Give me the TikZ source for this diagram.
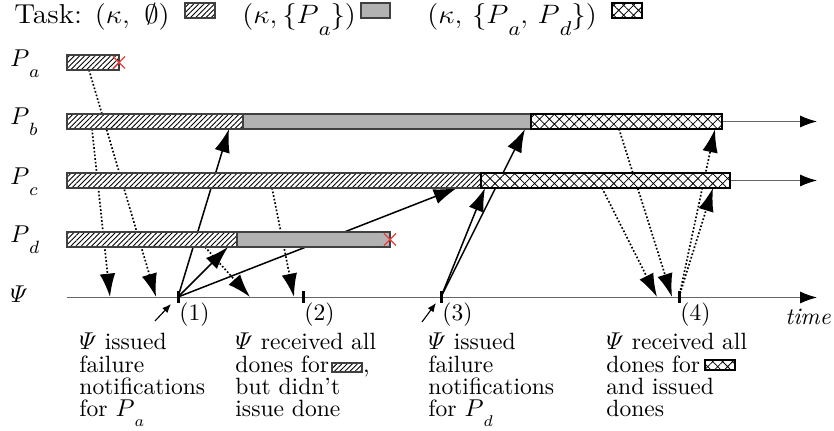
\documentclass[tikz,border=0pt]{standalone}
\usepackage{amsmath}
\usetikzlibrary{arrows.meta,patterns.meta}
\definecolor{crossred}{RGB}{240,60,60}
\definecolor{busy}{RGB}{178,178,178}
% process name with a lowered index
\newcommand{\Psub}[1]{P\raisebox{-0.42em}{$\scriptstyle #1$}}
% slightly widened heading text
\newcommand{\widetitle}[1]{\scalebox{1.08}[1]{#1}}
\begin{document}
\begin{tikzpicture}[x=0.45pt,y=-0.45pt,
  txt/.style={inner sep=0pt,font=\fontsize{10.6}{10.1}\selectfont},
  ttl/.style={inner sep=0pt,font=\fontsize{12.3}{13}\selectfont,anchor=base west},
  plbl/.style={inner sep=0pt,font=\fontsize{11.2}{12}\selectfont,anchor=base west},
  seg/.style={draw=black!75,line width=0.5pt},
  hatched/.style={seg,preaction={fill=white},pattern={Lines[angle=45,distance=1.65pt,line width=0.4pt]}},
  shaded/.style={seg,fill=busy},
  crossed/.style={draw=black,line width=0.7pt,preaction={fill=white},pattern={Hatch[angle=45,distance=3.15pt,line width=0.35pt]}},
  msg/.style={line width=0.68pt,-{Latex[length=10.5pt,width=7pt]}},
  donemsg/.style={msg,line width=0.75pt,dash pattern=on 0.75pt off 0.9pt},
  timeline/.style={draw=black!60,line width=0.45pt,-{Latex[length=7.6pt,width=5.4pt,color=black]}},
  tick/.style={line width=1.35pt},
  pointer/.style={line width=0.5pt,-{Latex[length=4pt,width=3.2pt]}},
  crash/.style={draw=crossred,line width=0.6pt}
]
\useasboundingbox (0,0) rectangle (834,431);

% ---------- legend ----------
\node[ttl] (t0) at (14,24) {\widetitle{Task: $(\kappa,\ \emptyset)$}};
\path[hatched] (185,3) rectangle (215,18);
\node[ttl] (t1) at (242,24) {\widetitle{$(\kappa,\{\Psub a\})$}};
\path[shaded] (361,3) rectangle (390,18);
\node[ttl] (t2) at (427,24) {\widetitle{$(\kappa,\,\{\Psub a,\,\Psub d\})$}};
\path[crossed] (612,3) rectangle (642,18);

% ---------- row labels ----------
\node[plbl] (la) at (10,67)  {$\Psub a$};
\node[plbl] (lb) at (10,125) {$\Psub b$};
\node[plbl] (lc) at (10,185) {$\Psub c$};
\node[plbl] (ld) at (10,243) {$\Psub d$};
\node[plbl] (lpsi) at (10,303) {$\varPsi$};

% ---------- message end points ----------
\coordinate (aout) at (89,70);
\coordinate (bout) at (92,129);
\coordinate (dout) at (205,247);
\coordinate (cout) at (272,188);
\coordinate (cout2) at (602,188);
\coordinate (bout2) at (619,129);
\coordinate (g1) at (156,297);
\coordinate (g2) at (110,297);
\coordinate (g3) at (250,297);
\coordinate (g4) at (294,297);
\coordinate (g5) at (657,297);
\coordinate (g6) at (672,297);
\coordinate (e1) at (178,297);
\coordinate (e2) at (303,297);
\coordinate (e3) at (441,297);
\coordinate (e4) at (679,297);
\coordinate (bin1) at (229,129);
\coordinate (din1) at (228,247);
\coordinate (cin1) at (457,188);
\coordinate (cin3) at (485,188);
\coordinate (bin3) at (525,129);
\coordinate (cin4) at (713,188);
\coordinate (bin4) at (715,129);

% ---------- time lines ----------
\coordinate (bend) at (722,121.5);
\coordinate (cend) at (730,180.5);
\coordinate (bfar) at (817,121.5);
\coordinate (cfar) at (817,180.5);
\coordinate (psistart) at (67,297.5);
\coordinate (psifar) at (817,297.5);
\draw[timeline] (bend) -- (bfar);
\draw[timeline] (cend) -- (cfar);
\draw[timeline] (psistart) -- (psifar);

% ---------- messages (drawn beneath the bars) ----------
\draw[donemsg] (aout) -- (g1);
\draw[donemsg] (bout) -- (g2);
\draw[donemsg] (dout) -- (g3);
\draw[donemsg] (cout) -- (g4);
\draw[donemsg] (cout2) -- (g5);
\draw[donemsg] (bout2) -- (g6);
\draw[donemsg] (e4) -- (cin4);
\draw[donemsg] (e4) -- (bin4);
\draw[msg] (e1) -- (bin1);
\draw[msg] (e1) -- (din1);
\draw[msg] (e1) -- (cin1);
\draw[msg] (e3) -- (cin3);
\draw[msg] (e3) -- (bin3);

% ---------- process bars ----------
\path[hatched] (67,55) rectangle (119,70);
\path[hatched] (67,114) rectangle (243,129);
\path[shaded]  (243,114) rectangle (531,129);
\path[crossed] (531,114) rectangle (722,129);
\path[hatched] (67,173) rectangle (481,188);
\path[crossed] (481,173) rectangle (730,188);
\path[hatched] (67,232) rectangle (237,247);
\path[shaded]  (237,232) rectangle (390,247);

% crashes
\draw[crash] (113,56.5) -- (125,68.5) (113,68.5) -- (125,56.5);
\draw[crash] (384,233.5) -- (396,245.5) (384,245.5) -- (396,233.5);

% ---------- events on the Psi line ----------
\foreach \e in {e1,e2,e3,e4}
  \draw[tick] (\e) ++(0,-6) -- ++(0,12);
\node[txt,anchor=north west] (n1) at (179,302) {(1)};
\node[txt,anchor=north west] (n2) at (304,302) {(2)};
\node[txt,anchor=north west] (n3) at (442,302) {(3)};
\node[txt,anchor=north west] (n4) at (680,302) {(4)};
\node[txt,anchor=base west] (tm) at (785,325) {\textit{time}};

\coordinate (p1) at (155,321);
\coordinate (q1) at (171,304);
\coordinate (p3) at (422,322);
\coordinate (q3) at (436,303);
\draw[pointer] (p1) -- (q1);
\draw[pointer] (p3) -- (q3);

% ---------- explanations ----------
\node[txt,anchor=north west,align=left] (x1) at (79,332.5)
  {$\varPsi$ issued\\failure\\notifications\\for $\Psub a$};
\node[txt,anchor=north west,align=left] (x2) at (235,332.5)
  {$\varPsi$ received all\\dones for\hspace{15.3pt},\\but didn't\\issue done};
\node[txt,anchor=north west,align=left] (x3) at (428,332.5)
  {$\varPsi$ issued\\failure\\notifications\\for $\Psub d$};
\node[txt,anchor=north west,align=left] (x4) at (606,332.5)
  {$\varPsi$ received all\\dones for \hspace{13.5pt}\\and issued\\dones};
\path[hatched] (332,363) rectangle (362,372);
\path[crossed] (705,360) rectangle (735,370);
\end{tikzpicture}
\end{document}
